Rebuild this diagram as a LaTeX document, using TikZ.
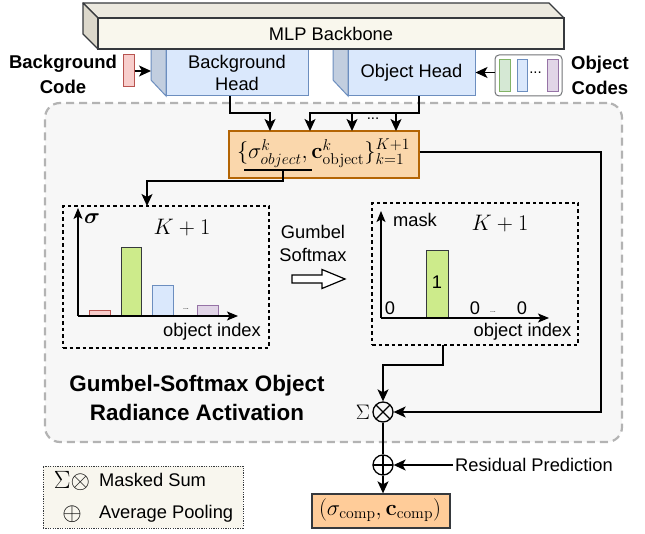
\documentclass[tikz,border=0pt]{standalone}
\usepackage{fix-cm}
\usepackage{amsmath}
\usepackage[no-math]{fontspec}
\setmainfont{Liberation Sans}
\usetikzlibrary{arrows.meta}
\definecolor{regionfill}{HTML}{F7F7F7}
\definecolor{dashgray}{HTML}{B3B3B3}
\definecolor{darkline}{HTML}{36393D}
\definecolor{mlpfront}{HTML}{F9F7ED}
\definecolor{mlptop}{HTML}{ECE9DF}
\definecolor{mlpleft}{HTML}{DCD8CB}
\definecolor{headfill}{HTML}{DAE8FC}
\definecolor{headside}{HTML}{C2CEDF}
\definecolor{headline}{HTML}{6C8EBF}
\definecolor{redfill}{HTML}{F8CECC}
\definecolor{redline}{HTML}{B85450}
\definecolor{greenfill}{HTML}{D5E8D4}
\definecolor{greenline}{HTML}{82B366}
\definecolor{purplefill}{HTML}{E1D5E7}
\definecolor{purpleline}{HTML}{9673A6}
\definecolor{limefill}{HTML}{CDEB8B}
\definecolor{orangefill}{HTML}{FAD7AC}
\definecolor{orangeline}{HTML}{B46504}
\definecolor{outfill}{HTML}{FFCC99}
\definecolor{legendfill}{HTML}{F8F6EE}
\tikzset{
  txt/.style={inner sep=0pt, font=\fontsize{18.3}{22}\selectfont, text=black},
  boldtxt/.style={inner sep=0pt, align=center, font=\fontsize{18.5}{25}\selectfont\bfseries},
  mth/.style={inner sep=0pt, font=\fontsize{22.4}{26}\selectfont},
  link/.style={line width=1.3pt, draw=black},
  arrowlink/.style={link, -{Stealth[length=12pt,width=11pt,inset=3pt]}},
  axisline/.style={line width=1.3pt, draw=black, -{Stealth[length=11pt,width=9pt,inset=2.5pt]}},
  region/.style={draw=dashgray, fill=regionfill, line width=2.2pt, dash pattern=on 8pt off 5pt, rounded corners=15pt, minimum width=577pt, minimum height=339pt, inner sep=0pt},
  headfront/.style={draw=headline, fill=headfill, line width=1pt, inner sep=0pt, align=center, font=\fontsize{18.3}{22}\selectfont},
  headsideface/.style={draw=headline, fill=headside, line width=1pt},
  mlpbox/.style={draw=darkline, fill=mlpfront, line width=1.3pt, inner sep=0pt, minimum width=466pt, minimum height=31pt, font=\fontsize{18.3}{22}\selectfont},
  codebar/.style={line width=1pt, inner sep=0pt, minimum width=11pt, minimum height=32pt},
  chartbox/.style={draw=black, line width=1.2pt, dash pattern=on 3.5pt off 3pt, minimum width=206pt, minimum height=142pt, inner sep=0pt},
  bar/.style={line width=1.2pt, inner sep=0pt, anchor=south west},
  opcircle/.style={circle, draw=black, line width=1.3pt, minimum size=20pt, inner sep=0pt},
  tinydots/.style={inner sep=0pt, font=\fontsize{7}{8}\selectfont},
}
\begin{document}
\begin{tikzpicture}[x=1pt,y=-1pt]
\useasboundingbox (0,0) rectangle (645,534);

% big region
\node[region] (region) at (333.5,272.5) {};

% heads (drawn before the backbone)
\filldraw[headsideface] (151,49) -- (151,80) -- (166,96) -- (166,49) -- cycle;
\node[headfront, minimum width=142pt, minimum height=47pt] (bghead) at (237,72.5) {Background\\Head};
\filldraw[headsideface] (333,49) -- (333,80) -- (348,96) -- (348,49) -- cycle;
\node[headfront, minimum width=127pt, minimum height=47pt] (objhead) at (411.5,72.5) {Object Head};

% MLP backbone cube
\filldraw[draw=darkline, fill=mlptop, line width=1.3pt, line join=round] (83,3) -- (549,3) -- (564,18) -- (98,18) -- cycle;
\filldraw[draw=darkline, fill=mlpleft, line width=1.3pt, line join=round] (83,3) -- (98,18) -- (98,49) -- (83,34) -- cycle;
\node[mlpbox] (mlp) at (331,33.5) {MLP Backbone};

% background code
\node[boldtxt] (bgcodelabel) at (63,74.5) {Background\\Code};
\node[codebar, draw=redline, fill=redfill] (redcode) at (128.5,71) {};
\coordinate (bgsidein) at (151,71);
\draw[arrowlink] (redcode.east) -- (bgsidein);

% object codes
\node[draw=darkline!70, fill=white, line width=1pt, rounded corners=4pt, minimum width=67pt, minimum height=41pt, inner sep=0pt] (objcodes) at (528.5,75.5) {};
\node[codebar, draw=greenline, fill=greenfill] (cg) at (504.5,76) {};
\node[codebar, draw=headline, fill=headfill, minimum width=10pt] (cb) at (522,76) {};
\node[inner sep=0pt, font=\fontsize{15}{16}\selectfont] (cdots) at (535.5,73) {...};
\node[codebar, draw=purpleline, fill=purplefill] (cp) at (552.5,76) {};
\node[boldtxt] (objcodelabel) at (600,75.5) {Object\\Codes};
\draw[arrowlink] (objcodes.west |- objhead.east) -- (objhead.east);

% orange aggregate box
\node[draw=orangeline, fill=orangefill, line width=1.3pt, minimum width=190pt, minimum height=47pt, inner sep=0pt] (agg) at (324,154.5) {};
\node[mth] (aggtext) at (323.5,153) {$\{\sigma^k_{object},\mathbf{c}^k_{\mathrm{object}}\}^{K+1}_{k=1}$};

% connectors from heads
\coordinate (bgout) at (230,96);
\coordinate (bgturn) at (230,113);
\coordinate (orin1) at (270,131);
\coordinate (objout) at (419,96);
\coordinate (objturn) at (419,113);
\coordinate (orin2) at (310,131);
\coordinate (orin3) at (352,131);
\coordinate (orin4) at (396,131);
\draw[arrowlink] (bgout) -- (bgturn) -| (orin1);
\draw[arrowlink] (objout) -- (objturn) -| (orin2);
\draw[arrowlink] (orin3 |- objturn) -- (orin3);
\draw[arrowlink] (orin4 |- objturn) -- (orin4);
\node[inner sep=0pt, font=\fontsize{15}{16}\selectfont] (headdots) at (373,119) {...};

% left chart
\node[chartbox] (lchart) at (166,277) {};
\coordinate (lo) at (78,316);
\coordinate (ly) at (78,208);
\coordinate (lx) at (238,316);
\node[bar, draw=redline, fill=redfill, minimum width=21pt, minimum height=5pt] (lbar1) at (89,316) {};
\node[bar, draw=darkline, fill=limefill, minimum width=20pt, minimum height=68pt] (lbar2) at (121,316) {};
\node[bar, draw=headline, fill=headfill, minimum width=21pt, minimum height=30pt] (lbar3) at (152,316) {};
\node[bar, draw=purpleline, fill=purplefill, minimum width=21pt, minimum height=10pt] (lbar4) at (197,316) {};
\node[tinydots] (ldots) at (186,309) {...};
\draw[axisline] (lo) -- (ly);
\draw[axisline] (lo) -- (lx);
\node[inner sep=0pt, font=\fontsize{22}{24}\selectfont] (sigmalabel) at (92,219) {$\boldsymbol{\sigma}$};
\node[mth] (lk) at (182,228) {$K+1$};
\node[txt, anchor=east] (lxlabel) at (261,332) {object index};

% underline and connector to left chart
\coordinate (ul1) at (244,170);
\coordinate (ul2) at (312,170);
\coordinate (ulmid) at (283,170);
\coordinate (ulturn) at (283,181);
\coordinate (lcin) at (147,206);
\draw[link] (ul1) -- (ul2);
\draw[arrowlink] (ulmid) -- (ulturn) -| (lcin);

% Gumbel softmax
\node[txt, align=center, font=\fontsize{18.3}{23}\selectfont] (gumbel) at (313,243.5) {Gumbel\\Softmax};
\filldraw[draw=black, fill=white, line width=1.2pt, line join=miter] (292,275) -- (322,275) -- (322,269.5) -- (345,279) -- (322,288.5) -- (322,283) -- (292,283) -- cycle;

% right chart
\node[chartbox] (rchart) at (475,274) {};
\coordinate (ro) at (381,318);
\coordinate (ry) at (381,211);
\coordinate (rx) at (549,318);
\node[bar, draw=darkline, fill=limefill, minimum width=22pt, minimum height=67pt] (rbar) at (426,318) {};
\draw[axisline] (ro) -- (ry);
\draw[axisline] (ro) -- (rx);
\node[txt] (one) at (437,282) {1};
\node[txt] (zero1) at (390,308) {0};
\node[txt] (zero2) at (475,308) {0};
\node[tinydots] (rdots) at (493,312) {...};
\node[txt] (zero3) at (522,308) {0};
\node[txt] (masklabel) at (415,220) {mask};
\node[mth] (rk) at (500,224) {$K+1$};
\node[txt] (rxlabel) at (522.5,332) {object index};

% title of region
\node[inner sep=0pt, align=center, font=\fontsize{22.4}{29}\selectfont\bfseries] (title) at (197,397.5) {Gumbel-Softmax Object\\Radiance Activation};

% masked sum and average pooling
\node[opcircle, path picture={\draw[line width=1.3pt] (path picture bounding box.north west) -- (path picture bounding box.south east) (path picture bounding box.north east) -- (path picture bounding box.south west);}] (otimes) at (383,412) {};
\node[inner sep=0pt, font=\fontsize{21}{22}\selectfont] (sigmasum) at (363,412) {$\Sigma$};
\node[opcircle, path picture={\draw[line width=1.3pt] (path picture bounding box.north) -- (path picture bounding box.south) (path picture bounding box.east) -- (path picture bounding box.west);}] (oplus) at (383,465) {};

\coordinate (rcout) at (443,345);
\coordinate (rcturn) at (443,365);
\draw[arrowlink] (rcout) -- (rcturn) -| (otimes.north);
\coordinate (rline) at (601,152);
\draw[arrowlink] (agg.east |- rline) -- (rline) |- (otimes.east);

% output
\node[draw=darkline, fill=outfill, line width=1.3pt, minimum width=138pt, minimum height=34pt, inner sep=0pt] (out) at (381,511) {};
\node[mth] (outtext) at (380,510) {$(\sigma_{\mathrm{comp}},\mathbf{c}_{\mathrm{comp}})$};
\draw[link] (otimes.south) -- (oplus.north);
\draw[arrowlink] (oplus.south) -- (oplus.south |- out.north);

\node[txt, anchor=west, inner sep=2pt] (resid) at (453,465) {Residual Prediction};
\draw[arrowlink] (resid.west) -- (oplus.east);

% legend
\node[draw=darkline, fill=legendfill, line width=0.9pt, dash pattern=on 1.2pt off 1.2pt, minimum width=200pt, minimum height=62pt, inner sep=0pt] (legend) at (143,497) {};
\node[inner sep=0pt, font=\fontsize{25}{26}\selectfont] (lgsym1) at (72,481) {$\Sigma\otimes$};
\node[txt, anchor=west] (lgtxt1) at (99,480) {Masked Sum};
\node[inner sep=0pt, font=\fontsize{25}{26}\selectfont] (lgsym2) at (72,514) {$\oplus$};
\node[txt, anchor=west] (lgtxt2) at (99,514) {Average Pooling};
\end{tikzpicture}
\end{document}
